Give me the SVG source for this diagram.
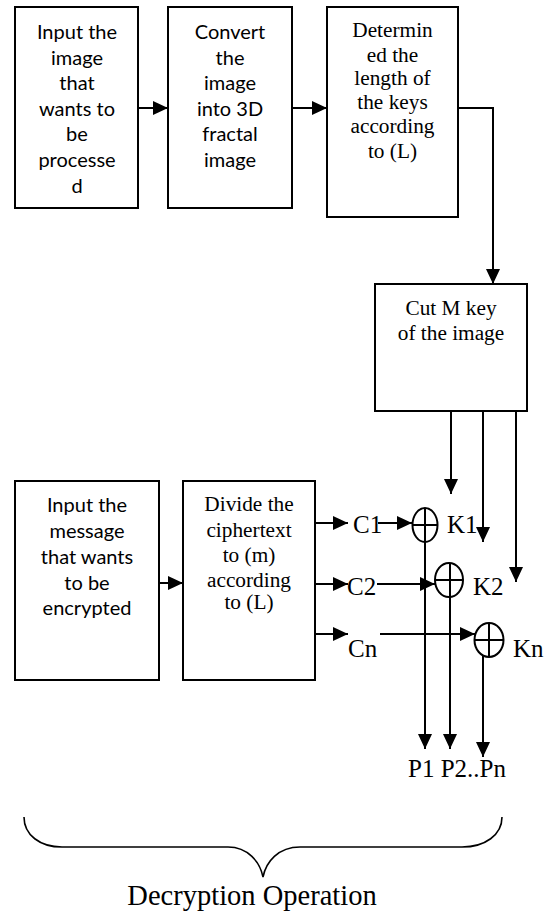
<svg xmlns="http://www.w3.org/2000/svg" width="548" height="915" viewBox="0 0 548 915">
<style>
.box{fill:#fff;stroke:#000;stroke-width:2}
.ln{fill:none;stroke:#000;stroke-width:2}
.cal{font-family:Lato,"Open Sans","Liberation Sans",sans-serif;font-size:20px;fill:#000;text-anchor:middle}
.tnr{font-family:"Liberation Serif","Times New Roman",serif;font-size:21.3px;fill:#000;text-anchor:middle}
.lbl{font-family:"Liberation Serif","Times New Roman",serif;font-size:25px;fill:#000}
</style>
<defs>
<marker id="ah" markerUnits="userSpaceOnUse" markerWidth="16" markerHeight="15" refX="15" refY="7" orient="auto">
<path d="M0,0 L15,7 L0,14 Z" fill="#000"/>
</marker>
</defs>
<g id="n1"><rect class="box" x="15" y="7" width="123" height="201"/>
<text class="cal"><tspan x="77" y="39">Input the</tspan><tspan x="77" y="65">image</tspan><tspan x="77" y="90">that</tspan><tspan x="77" y="116">wants to</tspan><tspan x="77" y="141">be</tspan><tspan x="77" y="167">processe</tspan><tspan x="77" y="193">d</tspan></text></g>
<g id="n2"><rect class="box" x="168" y="7" width="124" height="201"/>
<text class="cal"><tspan x="230" y="39">Convert</tspan><tspan x="230" y="65">the</tspan><tspan x="230" y="90">image</tspan><tspan x="230" y="116">into 3D</tspan><tspan x="230" y="141">fractal</tspan><tspan x="230" y="167">image</tspan></text></g>
<g id="n3"><rect class="box" x="327" y="7" width="131" height="210"/>
<text class="tnr"><tspan x="392.5" y="37">Determin</tspan><tspan x="392.5" y="62">ed the</tspan><tspan x="392.5" y="85">length of</tspan><tspan x="392.5" y="109">the keys</tspan><tspan x="392.5" y="133">according</tspan><tspan x="392.5" y="158">to (L)</tspan></text></g>
<g id="n4"><rect class="box" x="375" y="284" width="152" height="127"/>
<text class="tnr"><tspan x="451" y="315">Cut M key</tspan><tspan x="451" y="340">of the image</tspan></text></g>
<g id="n5"><rect class="box" x="15" y="481" width="144" height="199"/>
<text class="cal"><tspan x="87" y="512">Input the</tspan><tspan x="87" y="538">message</tspan><tspan x="87" y="564">that wants</tspan><tspan x="87" y="590">to be</tspan><tspan x="87" y="615">encrypted</tspan></text></g>
<g id="n6"><rect class="box" x="183" y="481" width="132" height="199"/>
<text class="tnr"><tspan x="249" y="511">Divide the</tspan><tspan x="249" y="537">ciphertext</tspan><tspan x="249" y="562">to (m)</tspan><tspan x="249" y="587">according</tspan><tspan x="249" y="609">to (L)</tspan></text></g>
<g id="x1"><ellipse class="ln" cx="425" cy="525" rx="12.5" ry="17"/><path class="ln" d="M412.5,525 H437.5"/></g>
<g id="x2"><ellipse class="ln" cx="449" cy="580" rx="14" ry="17"/><path class="ln" d="M435,580 H463 M450,563 V597"/></g>
<g id="x3"><ellipse class="ln" cx="489" cy="640" rx="14.5" ry="17"/><path class="ln" d="M474.5,640 H503.5 M489,623 V657"/></g>
<g id="labels">
<text class="lbl" x="353" y="533">C1</text>
<text class="lbl" x="447" y="533">K1</text>
<text class="lbl" x="347" y="595">C2</text>
<text class="lbl" x="473" y="595">K2</text>
<text class="lbl" x="348" y="657">Cn</text>
<text class="lbl" x="513" y="657">Kn</text>
<text class="lbl" x="408" y="777">P1 P2..Pn</text>
<text class="lbl" x="252" y="905" text-anchor="middle" style="font-size:28.5px">Decryption Operation</text>
</g>
<g id="connectors">
<path class="ln" d="M138,108 H168" marker-end="url(#ah)"/>
<path class="ln" d="M292,108 H327" marker-end="url(#ah)"/>
<path class="ln" d="M458,108 H493 V284" marker-end="url(#ah)"/>
<path class="ln" d="M159,583 H183" marker-end="url(#ah)"/>
<path class="ln" d="M451,411 V494" marker-end="url(#ah)"/>
<path class="ln" d="M483,411 V542" marker-end="url(#ah)"/>
<path class="ln" d="M516,411 V582" marker-end="url(#ah)"/>
<path class="ln" d="M315,523 H348" marker-end="url(#ah)"/>
<path class="ln" d="M378,523 H412" marker-end="url(#ah)"/>
<path class="ln" d="M315,584 H348" marker-end="url(#ah)"/>
<path class="ln" d="M377,584 H435" marker-end="url(#ah)"/>
<path class="ln" d="M315,634 H348" marker-end="url(#ah)"/>
<path class="ln" d="M380,634 H475" marker-end="url(#ah)"/>
<path class="ln" d="M425,508 V749" marker-end="url(#ah)"/>
<path class="ln" d="M450,597 V749" marker-end="url(#ah)"/>
<path class="ln" d="M483,655 V757" marker-end="url(#ah)"/>
<path fill="none" stroke="#000" stroke-width="1.6" d="M24,817 C24,835 40,847 62,847 L228,847 C248,847 260,862 263,877 C266,862 278,847 300,847 L462,847 C485,847 502,835 502,817"/>
</g>
</svg>
